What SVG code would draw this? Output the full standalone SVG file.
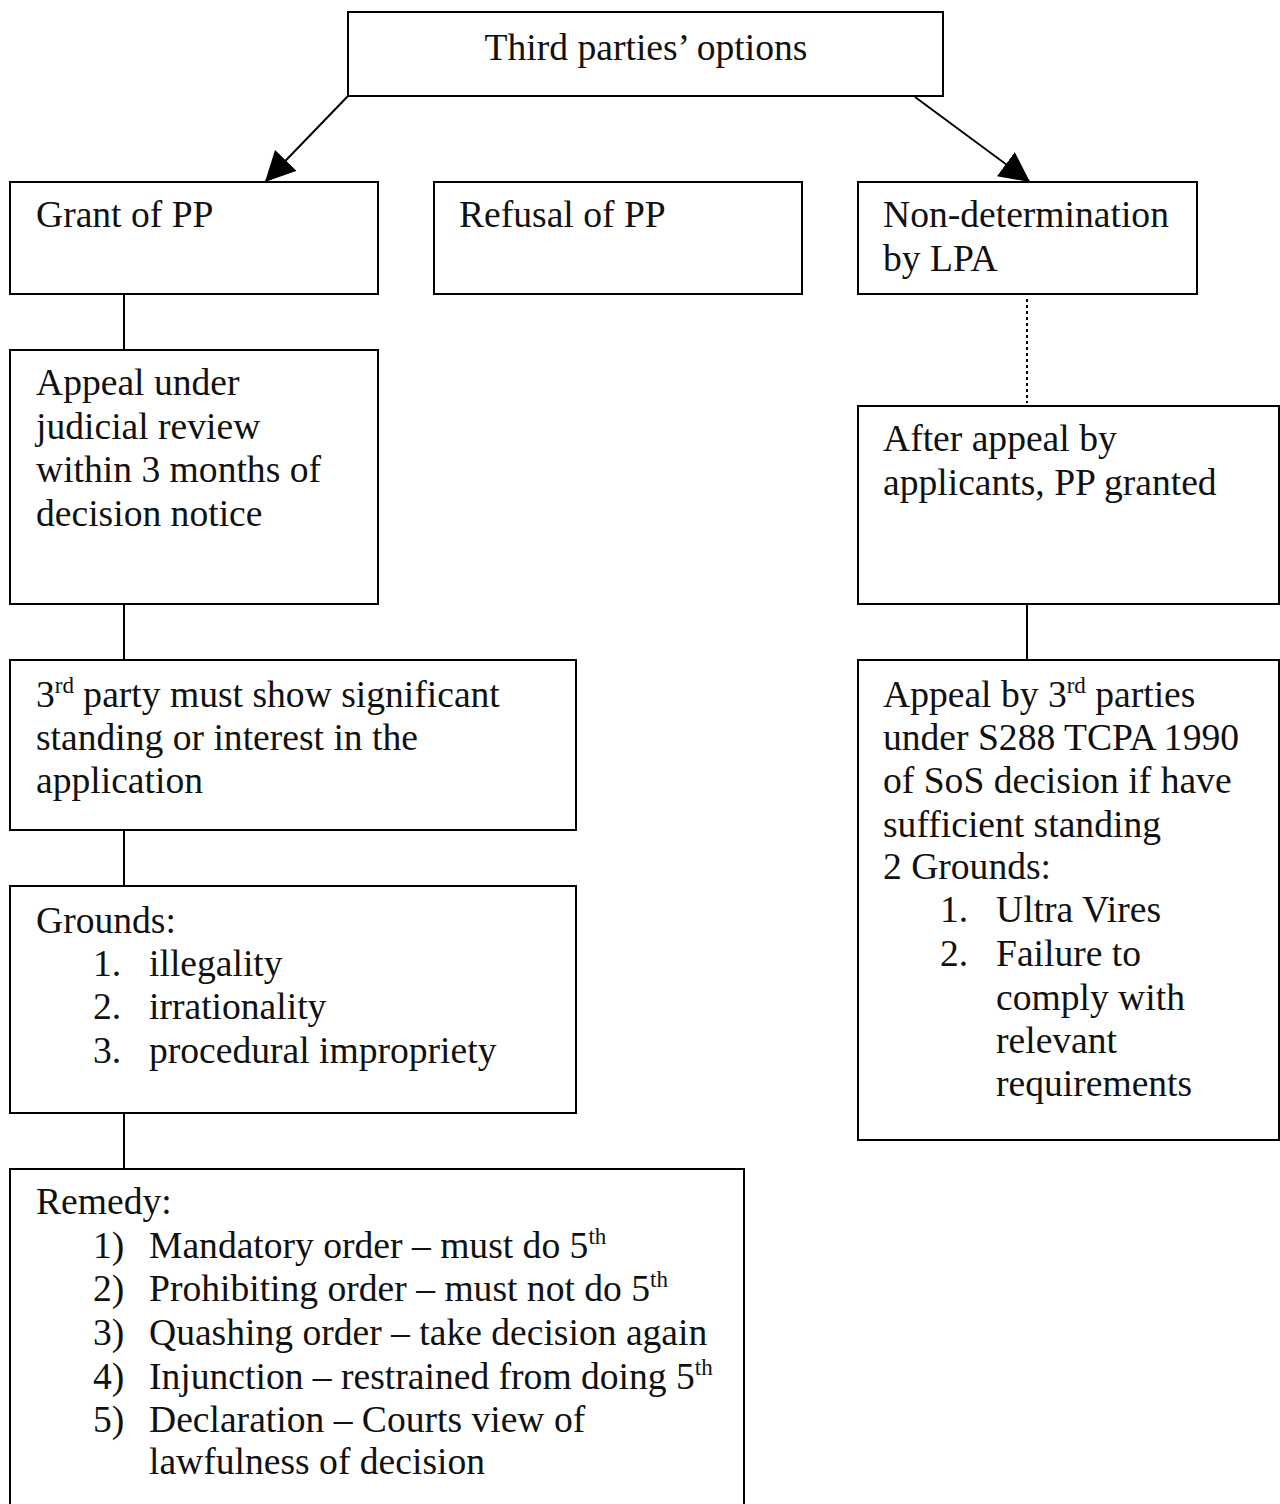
<svg xmlns="http://www.w3.org/2000/svg" width="1280" height="1504" viewBox="0 0 1280 1504">
<style>
.box{fill:#fff;stroke:#000;stroke-width:2}
.t{font-family:"Liberation Serif","Times New Roman",serif;font-size:37.6px;fill:#111}
.sup{font-size:23px}
.ln{stroke:#000;stroke-width:2;fill:none}
.dot{stroke:#000;stroke-width:2;stroke-dasharray:3 3;fill:none}
</style>
<defs>
<marker id="ah" viewBox="0 0 10 10" refX="10" refY="5" markerWidth="30" markerHeight="30" markerUnits="userSpaceOnUse" orient="auto">
<path d="M0,0 L10,5 L0,10 z" fill="#000"/>
</marker>
</defs>
<rect width="1280" height="1504" fill="#fff"/>
<g id="connectors">
<line class="ln" x1="348" y1="96" x2="265" y2="182" marker-end="url(#ah)"/>
<line class="ln" x1="915" y1="97" x2="1030" y2="182" marker-end="url(#ah)"/>
<line class="ln" x1="124" y1="294" x2="124" y2="350"/>
<line class="ln" x1="124" y1="604" x2="124" y2="660"/>
<line class="ln" x1="124" y1="830" x2="124" y2="886"/>
<line class="ln" x1="124" y1="1113" x2="124" y2="1169"/>
<line class="dot" x1="1027" y1="299" x2="1027" y2="403"/>
<line class="ln" x1="1027" y1="604" x2="1027" y2="660"/>
</g>
<g id="top">
<rect class="box" x="348" y="12" width="595" height="84"/>
<text class="t" x="646" y="60" text-anchor="middle">Third parties’ options</text>
</g>
<g id="grant">
<rect class="box" x="10" y="182" width="368" height="112"/>
<text class="t" x="36" y="227">Grant of PP</text>
</g>
<g id="refusal">
<rect class="box" x="434" y="182" width="368" height="112"/>
<text class="t" x="459" y="227">Refusal of PP</text>
</g>
<g id="nondet">
<rect class="box" x="858" y="182" width="339" height="112"/>
<text class="t" x="883" y="227">Non-determination</text>
<text class="t" x="883" y="271">by LPA</text>
</g>
<g id="jr">
<rect class="box" x="10" y="350" width="368" height="254"/>
<text class="t" x="36" y="395">Appeal under</text>
<text class="t" x="36" y="439">judicial review</text>
<text class="t" x="36" y="482">within 3 months of</text>
<text class="t" x="36" y="526">decision notice</text>
</g>
<g id="after">
<rect class="box" x="858" y="406" width="421" height="198"/>
<text class="t" x="883" y="451">After appeal by</text>
<text class="t" x="883" y="495">applicants, PP granted</text>
</g>
<g id="standing">
<rect class="box" x="10" y="660" width="566" height="170"/>
<text class="t" x="36" y="707">3<tspan class="sup" dy="-14">rd</tspan><tspan dy="14"> party must show significant</tspan></text>
<text class="t" x="36" y="750">standing or interest in the</text>
<text class="t" x="36" y="793">application</text>
</g>
<g id="s288">
<rect class="box" x="858" y="660" width="421" height="480"/>
<text class="t" x="883" y="707">Appeal by 3<tspan class="sup" dy="-14">rd</tspan><tspan dy="14"> parties</tspan></text>
<text class="t" x="883" y="750">under S288 TCPA 1990</text>
<text class="t" x="883" y="793">of SoS decision if have</text>
<text class="t" x="883" y="837">sufficient standing</text>
<text class="t" x="883" y="879">2 Grounds:</text>
<text class="t" x="940" y="922">1.</text>
<text class="t" x="996" y="922">Ultra Vires</text>
<text class="t" x="940" y="966">2.</text>
<text class="t" x="996" y="966">Failure to</text>
<text class="t" x="996" y="1010">comply with</text>
<text class="t" x="996" y="1053">relevant</text>
<text class="t" x="996" y="1096">requirements</text>
</g>
<g id="grounds">
<rect class="box" x="10" y="886" width="566" height="227"/>
<text class="t" x="36" y="933">Grounds:</text>
<text class="t" x="93" y="976">1.</text>
<text class="t" x="149" y="976">illegality</text>
<text class="t" x="93" y="1019">2.</text>
<text class="t" x="149" y="1019">irrationality</text>
<text class="t" x="93" y="1063">3.</text>
<text class="t" x="149" y="1063">procedural impropriety</text>
</g>
<g id="remedy">
<rect class="box" x="10" y="1169" width="734" height="360"/>
<text class="t" x="36" y="1214">Remedy:</text>
<text class="t" x="93" y="1258">1)</text>
<text class="t" x="149" y="1258">Mandatory order – must do 5<tspan class="sup" dy="-14">th</tspan></text>
<text class="t" x="93" y="1301">2)</text>
<text class="t" x="149" y="1301">Prohibiting order – must not do 5<tspan class="sup" dy="-14">th</tspan></text>
<text class="t" x="93" y="1345">3)</text>
<text class="t" x="149" y="1345">Quashing order – take decision again</text>
<text class="t" x="93" y="1389">4)</text>
<text class="t" x="149" y="1389">Injunction – restrained from doing 5<tspan class="sup" dy="-14">th</tspan></text>
<text class="t" x="93" y="1432">5)</text>
<text class="t" x="149" y="1432">Declaration – Courts view of</text>
<text class="t" x="149" y="1474">lawfulness of decision</text>
</g>
</svg>
